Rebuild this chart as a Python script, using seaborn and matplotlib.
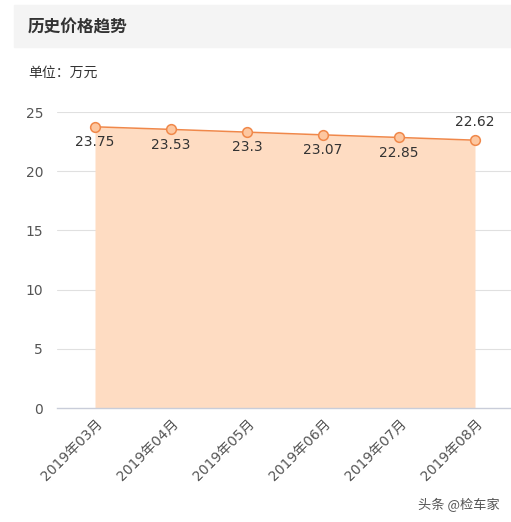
import matplotlib
matplotlib.use("Agg")
import matplotlib.pyplot as plt
import seaborn as sns
import pandas as pd
from matplotlib.patches import Rectangle

months = ["2019年03月", "2019年04月", "2019年05月", "2019年06月", "2019年07月", "2019年08月"]
prices = [23.75, 23.53, 23.3, 23.07, 22.85, 22.62]
y_ticks = [0, 5, 10, 15, 20, 25]

title = "历史价格趋势"
unit = "单位：万元"
watermark = "头条 @检车家"

sns.set_style("white")
plt.rcParams["font.family"] = ["Noto Sans CJK SC", "DejaVu Sans"]
num_font = ["DejaVu Sans", "Noto Sans CJK SC"]

line_color = "#F0884A"
fill_color = "#FEDCC2"
text_color = "#333333"

fig = plt.figure(figsize=(5.11, 5.22), dpi=100)

# title banner
fig.patches.append(Rectangle((14 / 511, 1 - 47 / 522), 1, 42 / 522,
                             transform=fig.transFigure, color="#F4F4F4", zorder=0))
fig.text(28 / 511, 1 - 27 / 522, title, fontsize=12, fontweight="bold",
         color=text_color, va="center", ha="left")
fig.text(28 / 511, 1 - 73 / 522, unit, fontsize=10, color=text_color,
         va="center", ha="left")
fig.text(500 / 511, 1 - 505 / 522, watermark, fontsize=9.5, color="#555555",
         va="center", ha="right")

ax = fig.add_axes([57 / 511, 1 - 408 / 522, 456 / 511, 296 / 522])
df = pd.DataFrame({"month": months, "price": prices})
x = list(range(len(months)))

ax.fill_between(x, prices, 0, color=fill_color, linewidth=0, zorder=1)
sns.lineplot(data=df, x="month", y="price", ax=ax, color=line_color, linewidth=1.1,
             marker="o", markersize=7, markerfacecolor="#FDC7A0",
             markeredgecolor=line_color, markeredgewidth=1.1, zorder=3)

for i, v in enumerate(prices):
    if i == len(prices) - 1:
        ax.annotate(f"{v:g}", (i, v), xytext=(0, 8), textcoords="offset points",
                    ha="center", va="bottom", fontsize=10, color=text_color,
                    family=num_font)
    else:
        ax.annotate(f"{v:g}", (i, v), xytext=(0, -6), textcoords="offset points",
                    ha="center", va="top", fontsize=10, color=text_color,
                    family=num_font)

ax.set_xlim(-0.5, len(months) - 0.5)
ax.set_ylim(0, 25)
ax.set_yticks(y_ticks)
ax.set_yticklabels([str(t) for t in y_ticks], fontsize=10, color="#555555",
                   family=num_font)
ax.tick_params(axis="y", length=0, pad=10)

ax.set_xticks(x)
ax.set_xticklabels(months, rotation=45, ha="right", rotation_mode="anchor",
                   fontsize=10, color="#555555", family=num_font)
ax.set_xticks([i - 0.5 for i in range(len(months) + 1)], minor=True)
ax.tick_params(axis="x", which="major", length=0, pad=6)
ax.tick_params(axis="x", which="minor", length=5, color="#C9CDD9", width=1)
ax.set_xlabel("")
ax.set_ylabel("")

for t in y_ticks[1:]:
    ax.axhline(t, color="#E0E0E0", linewidth=0.8, zorder=0)

for s in ["top", "right", "left"]:
    ax.spines[s].set_visible(False)
ax.spines["bottom"].set_color("#C9CDD9")
ax.spines["bottom"].set_linewidth(1)

fig.savefig("out.png", dpi=100)
